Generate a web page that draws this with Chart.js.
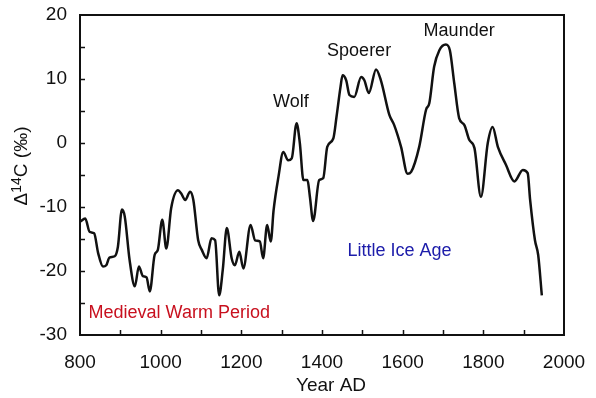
<!DOCTYPE html>
<html>
<head>
<meta charset="utf-8">
<script src="https://cdn.jsdelivr.net/npm/chart.js@4"></script>
<style>
  html, body { margin: 0; padding: 0; background: #fff; }
  #wrap { width: 596px; height: 398px; }
</style>
</head>
<body>
<div id="wrap"><canvas id="c14Chart" width="596" height="398"></canvas></div>
<script>
// values
var years = [800, 813, 824, 835, 845, 857, 865, 873, 886, 894, 904, 911, 923, 936, 946, 956, 965, 973, 985, 993,
    1004, 1014, 1026, 1043, 1051, 1061, 1073, 1081, 1093, 1102, 1114, 1126, 1135, 1145, 1154, 1164, 1176, 1184, 1195, 1205,
    1223, 1234, 1246, 1254, 1264, 1273, 1280, 1292, 1304, 1316, 1325, 1337, 1345, 1354, 1364, 1370, 1378, 1393, 1403, 1413,
    1428, 1436, 1446, 1451, 1460, 1468, 1480, 1497, 1505, 1516, 1534, 1546, 1567, 1579, 1596, 1612, 1621, 1641, 1658, 1666,
    1678, 1691, 1707, 1717, 1728, 1740, 1753, 1765, 1778, 1794, 1811, 1823, 1836, 1856, 1877, 1898, 1910, 1916, 1928, 1936, 1945];
var delta14C = [-12.3, -11.8, -13.9, -14.1, -17.2, -19.3, -19.1, -17.9, -17.7, -16.2, -10.4, -11.5, -18.3, -22.4, -19.3, -20.8, -21.0, -23.2, -17.5, -16.7,
    -12.0, -16.5, -10.2, -7.4, -7.9, -8.9, -7.6, -8.9, -15.2, -16.7, -18.0, -14.9, -15.2, -23.8, -19.8, -13.3, -18.0, -19.1, -17.0, -19.6,
    -12.8, -15.2, -15.4, -18.0, -12.8, -15.4, -10.5, -5.3, -1.4, -2.7, -2.4, 3.1, 0.0, -5.8, -5.8, -8.4, -12.2, -5.8, -5.5, -0.6,
    0.7, 4.1, 8.8, 10.6, 9.8, 7.5, 7.2, 10.3, 9.8, 7.8, 11.5, 9.8, 4.4, 2.8, -0.6, -4.8, -4.5, -0.6, 5.2, 6.2,
    11.9, 14.5, 15.4, 14.5, 9.3, 3.9, 2.8, 0.5, -0.8, -8.4, 0.0, 2.5, -0.6, -3.4, -6.0, -4.2, -4.7, -8.9, -15.2, -17.5, -23.8];

var xTicks = [800, 1000, 1200, 1400, 1600, 1800, 2000];
var yTicks = [-30, -20, -10, 0, 10, 20];

var noteTexts = ['Wolf', 'Spoerer', 'Maunder', 'Little Ice Age', 'Medieval Warm Period'];
var noteYears = [1323, 1492, 1740, 1592, 1046];
var noteValues = [6.45, 14.3, 17.5, -16.9, -26.6];
var noteColors = ['#111111', '#111111', '#111111', '#1c1caa', '#c8101e'];

var FONT = '"Liberation Sans", Arial, sans-serif';

var points = [];
for (var i = 0; i < years.length; i++) {
    points.push({ x: years[i], y: delta14C[i] });
}

// frame, inward tick marks, notes and axis titles
var extrasPlugin = {
    id: 'extras',
    afterDraw: function (chart) {
        var ctx = chart.ctx;
        var a = chart.chartArea;
        var xs = chart.scales.x;
        var ys = chart.scales.y;
        ctx.save();
        ctx.strokeStyle = '#111';
        ctx.lineWidth = 2;
        ctx.strokeRect(a.left, a.top, a.right - a.left, a.bottom - a.top);

        ctx.lineWidth = 1.5;
        ctx.beginPath();
        for (var yv = -25; yv < 20; yv += 5) {
            var py = Math.round(ys.getPixelForValue(yv)) + 0.5;
            ctx.moveTo(a.left, py);
            ctx.lineTo(a.left + 5, py);
        }
        for (var xv = 900; xv < 2000; xv += 100) {
            var px = Math.round(xs.getPixelForValue(xv)) + 0.5;
            ctx.moveTo(px, a.bottom);
            ctx.lineTo(px, a.bottom - 5);
        }
        ctx.stroke();

        ctx.textAlign = 'center';
        ctx.textBaseline = 'middle';
        ctx.font = '18px ' + FONT;
        for (var n = 0; n < noteTexts.length; n++) {
            ctx.fillStyle = noteColors[n];
            ctx.fillText(noteTexts[n], xs.getPixelForValue(noteYears[n]), ys.getPixelForValue(noteValues[n]));
        }

        // x title
        ctx.fillStyle = '#111';
        ctx.font = '19px ' + FONT;
        ctx.fillText('Year AD', 331, 386);

        // y title: Δ14C (‰) with superscript
        ctx.translate(20, 166);
        ctx.rotate(-Math.PI / 2);
        ctx.textAlign = 'left';
        ctx.textBaseline = 'alphabetic';
        var big = '19px ' + FONT;
        var small = '14px ' + FONT;
        ctx.font = big;
        var w1 = ctx.measureText('\u0394').width;
        var w3 = ctx.measureText('C (\u2030)').width;
        ctx.font = small;
        var w2 = ctx.measureText('14').width;
        var start = -(w1 + w2 + w3) / 2;
        ctx.font = big;
        ctx.fillText('\u0394', start, 7);
        ctx.font = small;
        ctx.fillText('14', start + w1, 1);
        ctx.font = big;
        ctx.fillText('C (\u2030)', start + w1 + w2, 7);
        ctx.restore();
    }
};

var ctx = document.getElementById('c14Chart');
var c14Chart = new Chart(ctx, {
    type: 'line',
    data: {
        datasets: [{
            label: 'Delta 14C',
            data: points,
            borderColor: '#111',
            borderWidth: 2.5,
            pointRadius: 0,
            fill: false,
            cubicInterpolationMode: 'monotone'
        }]
    },
    options: {
        responsive: false,
        animation: false,
        layout: { padding: { left: 0, top: 15, right: 32, bottom: 0 } },
        plugins: {
            legend: { display: false },
            tooltip: { enabled: false }
        },
        scales: {
            x: {
                type: 'linear',
                min: 800,
                max: 2000,
                afterBuildTicks: function (scale) {
                    scale.ticks = xTicks.map(function (v) { return { value: v }; });
                },
                afterFit: function (scale) {
                    scale.height = 63;
                    scale.paddingLeft = 0;
                    scale.paddingRight = 0;
                },
                grid: { display: false, drawTicks: false },
                border: { display: false },
                ticks: {
                    padding: 16,
                    color: '#111',
                    font: { family: FONT, size: 19 },
                    maxRotation: 0,
                    autoSkip: false,
                    callback: function (value) { return String(value); }
                }
            },
            y: {
                min: -30,
                max: 20,
                afterBuildTicks: function (scale) {
                    scale.ticks = yTicks.map(function (v) { return { value: v }; });
                },
                afterFit: function (scale) {
                    scale.width = 80;
                    scale.paddingTop = 0;
                    scale.paddingBottom = 0;
                },
                grid: { display: false, drawTicks: false },
                border: { display: false },
                ticks: {
                    padding: 13,
                    color: '#111',
                    font: { family: FONT, size: 19 },
                    callback: function (value) { return String(value); }
                }
            }
        }
    },
    plugins: [extrasPlugin]
});
</script>
</body>
</html>
